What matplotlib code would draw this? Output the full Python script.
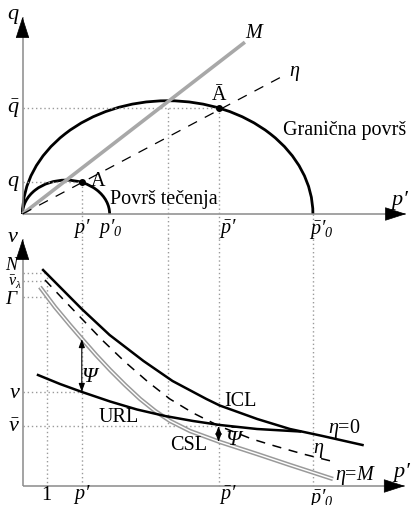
import matplotlib
matplotlib.use('Agg')
import matplotlib.pyplot as plt
from matplotlib.patches import Arc

plt.rcParams['font.family'] = ['Liberation Serif', 'DejaVu Serif']
plt.rcParams['mathtext.fontset'] = 'custom'
plt.rcParams['mathtext.rm'] = 'Liberation Serif:italic'
plt.rcParams['mathtext.it'] = 'Liberation Serif:italic'
plt.rcParams['mathtext.bf'] = 'Liberation Serif:bold'
plt.rcParams['mathtext.fallback'] = 'stix'

# ---------------- data (schematic units) ----------------
# characteristic mean effective stresses p'
P_ONE, P_A, P_0, P_CS, P_ABAR, P_0BAR = 1.0, 2.45, 3.6, 6.0, 8.1, 12.0
# deviator stresses
Q_A, Q_ABAR = 1.31, 4.38
# yield surface (small) and bounding surface (big): p0 and peak q
YIELD_P0 = [3.6, 12.0]
YIELD_QPEAK = [1.40, 4.68]
# critical state line M and stress-ratio line eta in p'-q plane
M_LINE_P = [0.0, 9.19]
M_LINE_Q = [0.0, 7.10]
ETA_LINE_P = [0.0, 10.95]
ETA_LINE_Q = [0.0, 5.80]

# specific volumes
V_N, V_LAMBDA, V_GAMMA, V_A, V_ABAR = 3.63, 3.55, 3.39, 2.44, 2.10
V_CSL_A, V_CSL_ABAR = 2.97, 1.94

# compression lines in p'-v plane
ICL_P = [0.85, 2.45, 3.6, 5.0, 6.2, 7.6, 8.15, 9.7, 11.05, 12.4, 14.05]
ICL_V = [3.66, 3.27, 3.01, 2.75, 2.55, 2.37, 2.305, 2.17, 2.07, 2.00, 1.91]
ETA_P = [0.93, 1.71, 2.5, 3.29, 4.24, 5.19, 6.09, 7.05, 8.12, 9.48, 10.43, 11.59, 12.91]
ETA_V = [3.56, 3.36, 3.16, 2.96, 2.74, 2.54, 2.37, 2.23, 2.10, 1.97, 1.90, 1.82, 1.74]
CSL_P = [0.72, 1.34, 1.96, 2.46, 3.04, 3.62, 4.24, 4.86, 5.48, 6.1, 6.92, 8.16, 9.69, 11.05, 12.83]
CSL_V = [3.49, 3.29, 3.11, 2.97, 2.81, 2.66, 2.51, 2.37, 2.25, 2.15, 2.05, 1.94, 1.82, 1.71, 1.57]
URL_P = [0.64, 1.55, 2.46, 3.62, 4.73, 5.89, 7.05, 8.16, 9.69, 11.47]
URL_V = [2.61, 2.52, 2.44, 2.345, 2.265, 2.20, 2.15, 2.11, 2.07, 2.045]

# ---------------- figure ----------------
W, H = 412, 506
fig = plt.figure(figsize=(W / 100, H / 100), dpi=100)
ax1 = fig.add_axes([0, 1 - 240 / H, 1, 240 / H])
ax2 = fig.add_axes([0, 0, 1, 266 / H])
ax1.set_xlim(-0.930, 16.095)
ax1.set_ylim(-1.033, 8.884)
ax2.set_xlim(-0.930, 16.095)
ax2.set_ylim(1.31, 3.97)
for ax in (ax1, ax2):
    ax.axis('off')
    ax.patch.set_alpha(0)

FS = 14.5
FB = 16
DOT = dict(color='#9a9a9a', lw=1.0, ls=(0, (1, 2)))
AXC = '#8a8a8a'
PR = '\u2032'


def axis_arrow(ax, start, tip, direction):
    ax.plot([start[0], tip[0]], [start[1], tip[1]], color=AXC, lw=1.1,
            solid_capstyle='butt', clip_on=False)
    off = (-14, 0) if direction == 'x' else (0, -14)
    ax.annotate('', xy=tip, xytext=off, textcoords='offset points',
                arrowprops=dict(arrowstyle='-|>,head_length=1.4,head_width=0.45',
                                mutation_scale=10, color='black', lw=0.5,
                                shrinkA=0, shrinkB=0),
                annotation_clip=False)

# ---------------- top panel: p'-q ----------------
axis_arrow(ax1, (0, 0), (15.85, 0), 'x')
axis_arrow(ax1, (0, 0), (0, 8.14), 'y')

# dotted guides
ax1.plot([0, P_ABAR], [Q_ABAR, Q_ABAR], **DOT)
ax1.plot([0, P_A], [Q_A, Q_A], **DOT)
yb = ax1.get_ylim()[0]
ax1.plot([P_A, P_A], [Q_A, yb], clip_on=False, **DOT)
ax1.plot([P_ABAR, P_ABAR], [Q_ABAR, yb], clip_on=False, **DOT)
ax1.plot([P_CS, P_CS], [Q_ABAR, yb], clip_on=False, **DOT)
ax1.plot([P_0BAR, P_0BAR], [0, yb], clip_on=False, **DOT)

# M line and eta line
ax1.plot(M_LINE_P, M_LINE_Q, color='#a8a8a8', lw=2.6, solid_capstyle='butt')
ax1.plot(ETA_LINE_P, ETA_LINE_Q, color='black', lw=0.9, dashes=(8, 7))

# yield surfaces
for p0, qp in zip(YIELD_P0, YIELD_QPEAK):
    ax1.add_patch(Arc((p0 / 2, 0), p0, 2 * qp, theta1=0, theta2=180,
                      color='black', lw=2.0))

ax1.plot([P_A, P_ABAR], [Q_A, Q_ABAR], 'o', color='black', ms=4, ls='none')

ax1.text(-0.39, 8.22, r'$q$', fontsize=FB, ha='center', va='center')
ax1.text(-0.39, Q_ABAR, r'$\bar{q}$', fontsize=FB, ha='center', va='center')
ax1.text(-0.39, Q_A, r'$q$', fontsize=FB, ha='center', va='center')
ax1.text(P_A, -0.55, f'$p{PR}$', fontsize=FS, ha='center', va='center')
ax1.text(P_0 + 0.05, -0.55, f'$p{PR}_0$', fontsize=FS, ha='center', va='center')
ax1.text(8.49, -0.55, f'$\\bar{{p}}{PR}$', fontsize=FS, ha='center', va='center')
ax1.text(12.35, -0.6, f'$\\bar{{p}}{PR}_0$', fontsize=FS, ha='center', va='center')
ax1.text(15.6, 0.6, f'$p{PR}$', fontsize=FB, ha='center', va='center')
ax1.text(3.12, 1.40, 'A', fontsize=FS, ha='center', va='center')
ax1.text(8.12, 4.95, '\u0100', fontsize=FS, ha='center', va='center')
ax1.text(9.61, 7.48, r'$M$', fontsize=FS, ha='center', va='center')
ax1.text(11.26, 5.83, r'$\eta$', fontsize=FS, ha='center', va='center')
ax1.text(10.76, 3.51, 'Granična površ', fontsize=FS, ha='left', va='center')
ax1.text(3.62, 0.66, 'Površ tečenja', fontsize=FS, ha='left', va='center')

# ---------------- bottom panel: p'-v ----------------
V0 = 1.5
axis_arrow(ax2, (0, V0), (15.8, V0), 'x')
axis_arrow(ax2, (0, V0), (0, 3.97), 'y')

yt = ax2.get_ylim()[1]
ax2.plot([0, P_ONE], [V_N, V_N], **DOT)
ax2.plot([0, P_ONE], [V_LAMBDA, V_LAMBDA], **DOT)
ax2.plot([0, P_ONE], [V_GAMMA, V_GAMMA], **DOT)
ax2.plot([0, P_A], [V_A, V_A], **DOT)
ax2.plot([0, P_ABAR], [V_ABAR, V_ABAR], **DOT)
ax2.plot([P_ONE, P_ONE], [V_N, V0], **DOT)
ax2.plot([P_A, P_A], [yt, V0], **DOT)
ax2.plot([P_CS, P_CS], [yt, V_ABAR], **DOT)
ax2.plot([P_ABAR, P_ABAR], [yt, V0], **DOT)
ax2.plot([P_0BAR, P_0BAR], [yt, V0], **DOT)

ax2.plot(ETA_P, ETA_V, color='black', lw=1.1, dashes=(6, 5))
ax2.plot(CSL_P, CSL_V, color='#9a9a9a', lw=3.2, solid_capstyle='butt')
ax2.plot(CSL_P, CSL_V, color='white', lw=1.0, solid_capstyle='butt')
ax2.plot(ICL_P, ICL_V, color='black', lw=1.8)
ax2.plot(URL_P, URL_V, color='black', lw=1.8)

psi = dict(arrowstyle='<|-|>,head_length=0.5,head_width=0.18', mutation_scale=10,
           lw=0.8, color='black', shrinkA=0, shrinkB=0)
ax2.annotate('', xy=(P_A, V_CSL_A), xytext=(P_A, V_A), arrowprops=psi)
ax2.annotate('', xy=(P_ABAR, V_CSL_ABAR), xytext=(P_ABAR, V_ABAR), arrowprops=psi)

ax2.text(-0.39, 4.00, r'$v$', fontsize=FB, ha='center', va='center')
ax2.text(-0.42, 3.71, r'$N$', fontsize=13, ha='center', va='center')
ax2.text(-0.33, 3.545, r'$\bar{v}_\lambda$', fontsize=11.5, ha='center', va='center')
ax2.text(-0.42, 3.37, r'$\Gamma$', fontsize=14, ha='center', va='center')
ax2.text(-0.32, V_A, r'$v$', fontsize=FB, ha='center', va='center')
ax2.text(-0.35, V_ABAR - 0.01, r'$\bar{v}$', fontsize=FB, ha='center', va='center')
ax2.text(2.82, 2.60, r'$\Psi$', fontsize=FB, ha='center', va='center')
ax2.text(8.75, 1.97, r'$\bar{\Psi}$', fontsize=FB, ha='center', va='center')
ax2.text(3.99, 2.19, 'URL', fontsize=FS, ha='center', va='center')
ax2.text(6.88, 1.92, 'CSL', fontsize=FS, ha='center', va='center')
ax2.text(8.99, 2.36, 'ICL', fontsize=FS, ha='center', va='center')
ax2.text(13.28, 2.09, r'$\eta$=0', fontsize=FS, ha='center', va='center')
ax2.text(12.25, 1.86, r'$\eta$', fontsize=FS, ha='center', va='center')
ax2.text(13.78, 1.61, r'$\eta$=$M$', fontsize=FS, ha='center', va='center')
ax2.text(15.68, 1.64, f'$p{PR}$', fontsize=FB, ha='center', va='center')
ax2.text(P_ONE, 1.41, '1', fontsize=FS, ha='center', va='center')
ax2.text(P_A, 1.42, f'$p{PR}$', fontsize=FS, ha='center', va='center')
ax2.text(8.49, 1.42, f'$\\bar{{p}}{PR}$', fontsize=FS, ha='center', va='center')
ax2.text(12.35, 1.39, f'$\\bar{{p}}{PR}_0$', fontsize=FS, ha='center', va='center')

fig.savefig('out.png', dpi=100)
